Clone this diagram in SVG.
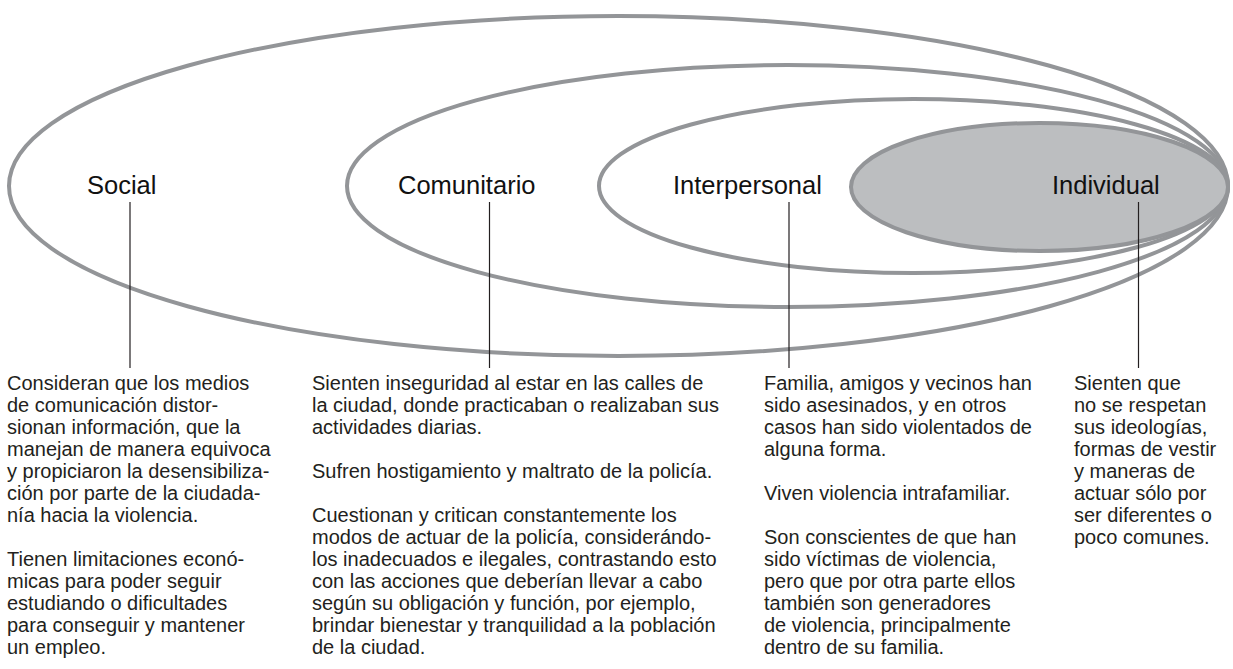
<svg xmlns="http://www.w3.org/2000/svg" width="1233" height="669" viewBox="0 0 1233 669">
<style>
.ring{fill:none;stroke:#939598;stroke-width:4}
.core{fill:#bcbec0;stroke:#939598;stroke-width:4}
.lbl{font-family:"Liberation Sans",Arial,sans-serif;font-size:25.5px;fill:#111}
.body{font-family:"Liberation Sans",Arial,sans-serif;font-size:20px;fill:#231f20}
.conn{stroke:#231f20;stroke-width:1.2;fill:none}
</style>
<rect width="1233" height="669" fill="#fff"/>
<g id="social">
<ellipse class="ring" cx="618.5" cy="186" rx="609.5" ry="170"/>
<text class="lbl" x="87" y="194">Social</text>
</g>
<g id="comunitario">
<ellipse class="ring" cx="787.5" cy="186" rx="440.5" ry="121"/>
<text class="lbl" x="398" y="194">Comunitario</text>
</g>
<g id="interpersonal">
<ellipse class="ring" cx="913.5" cy="186" rx="314.5" ry="87"/>
<text class="lbl" x="673" y="194">Interpersonal</text>
</g>
<g id="individual">
<ellipse class="core" cx="1039.5" cy="187" rx="188.5" ry="64"/>
<text class="lbl" x="1052" y="194">Individual</text>
</g>
<g id="connectors">
<line class="conn" x1="130" y1="202" x2="130" y2="368"/>
<line class="conn" x1="489.5" y1="202" x2="489.5" y2="368"/>
<line class="conn" x1="789" y1="202" x2="789" y2="368"/>
<line class="conn" x1="1138.5" y1="202" x2="1138.5" y2="368"/>
</g>
<g id="text-social">
<text class="body">
<tspan x="7" y="390">Consideran que los medios</tspan>
<tspan x="7" y="412">de comunicación distor-</tspan>
<tspan x="7" y="434">sionan información, que la</tspan>
<tspan x="7" y="456">manejan de manera equivoca</tspan>
<tspan x="7" y="478">y propiciaron la desensibiliza-</tspan>
<tspan x="7" y="500">ción por parte de la ciudada-</tspan>
<tspan x="7" y="522">nía hacia la violencia.</tspan>
<tspan x="7" y="566">Tienen limitaciones econó-</tspan>
<tspan x="7" y="588">micas para poder seguir</tspan>
<tspan x="7" y="610">estudiando o dificultades</tspan>
<tspan x="7" y="632">para conseguir y mantener</tspan>
<tspan x="7" y="654">un empleo.</tspan>
</text>
</g>
<g id="text-comunitario">
<text class="body">
<tspan x="312" y="390">Sienten inseguridad al estar en las calles de</tspan>
<tspan x="312" y="412">la ciudad, donde practicaban o realizaban sus</tspan>
<tspan x="312" y="434">actividades diarias.</tspan>
<tspan x="312" y="478">Sufren hostigamiento y maltrato de la policía.</tspan>
<tspan x="312" y="522">Cuestionan y critican constantemente los</tspan>
<tspan x="312" y="544">modos de actuar de la policía, considerándo-</tspan>
<tspan x="312" y="566">los inadecuados e ilegales, contrastando esto</tspan>
<tspan x="312" y="588">con las acciones que deberían llevar a cabo</tspan>
<tspan x="312" y="610">según su obligación y función, por ejemplo,</tspan>
<tspan x="312" y="632">brindar bienestar y tranquilidad a la población</tspan>
<tspan x="312" y="654">de la ciudad.</tspan>
</text>
</g>
<g id="text-interpersonal">
<text class="body">
<tspan x="764" y="390">Familia, amigos y vecinos han</tspan>
<tspan x="764" y="412">sido asesinados, y en otros</tspan>
<tspan x="764" y="434">casos han sido violentados de</tspan>
<tspan x="764" y="456">alguna forma.</tspan>
<tspan x="764" y="500">Viven violencia intrafamiliar.</tspan>
<tspan x="764" y="544">Son conscientes de que han</tspan>
<tspan x="764" y="566">sido víctimas de violencia,</tspan>
<tspan x="764" y="588">pero que por otra parte ellos</tspan>
<tspan x="764" y="610">también son generadores</tspan>
<tspan x="764" y="632">de violencia, principalmente</tspan>
<tspan x="764" y="654">dentro de su familia.</tspan>
</text>
</g>
<g id="text-individual">
<text class="body">
<tspan x="1074" y="390">Sienten que</tspan>
<tspan x="1074" y="412">no se respetan</tspan>
<tspan x="1074" y="434">sus ideologías,</tspan>
<tspan x="1074" y="456">formas de vestir</tspan>
<tspan x="1074" y="478">y maneras de</tspan>
<tspan x="1074" y="500">actuar sólo por</tspan>
<tspan x="1074" y="522">ser diferentes o</tspan>
<tspan x="1074" y="544">poco comunes.</tspan>
</text>
</g>
</svg>
